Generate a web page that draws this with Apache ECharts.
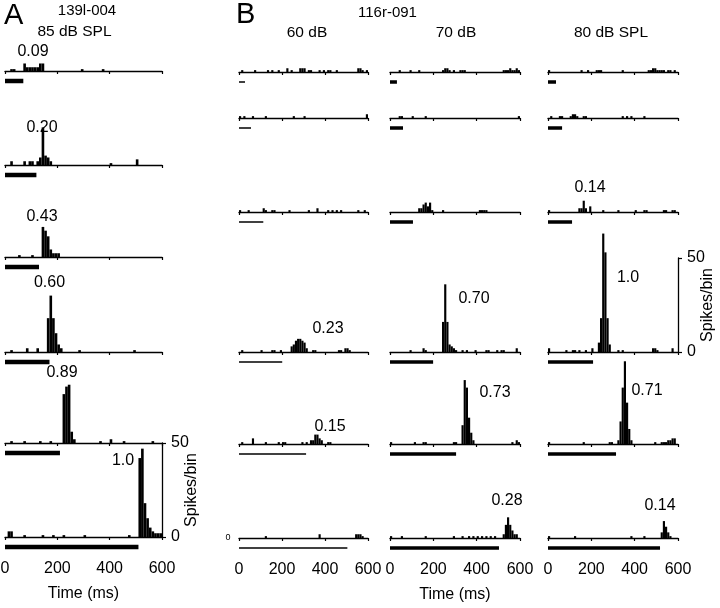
<!DOCTYPE html>
<html><head><meta charset="utf-8">
<script src="https://cdn.jsdelivr.net/npm/echarts@6/dist/echarts.min.js"></script>
<style>html,body{margin:0;padding:0;background:#fff}#c{width:720px;height:608px}</style>
</head><body><div id="c"></div>
<script>
// ---------------- DATA ----------------
const BIN = 10; // ms per histogram bin
const timeTicks = [0, 200, 400, 600];
const spikeTicks = [0, 50];

// Panel A: unit 139l-004, 85 dB SPL. Each histogram: [bin start (ms), spikes/bin]
const stimA = [70, 120, 130, 170, 210, 510];
const ratioA = ['0.09', '0.20', '0.43', '0.60', '0.89', '1.0'];
const histA1 = [[20,1],[30,1],[70,4],[80,2],[90,2],[100,2],[110,2],[120,2],[130,4],[140,4],[290,1],[370,1]];
const histA2 = [[20,2],[70,2],[90,2],[100,2],[120,2],[130,4],[140,20],[150,5],[160,4],[170,2],[400,1],[500,3]];
const histA3 = [[50,1],[100,1],[140,16],[150,14],[160,11],[170,4],[180,2],[190,2],[200,2]];
const histA4 = [[20,1],[80,2],[120,2],[160,18],[170,30],[180,18],[190,10],[200,4],[210,2],[280,1],[490,1]];
const histA5 = [[20,1],[70,1],[130,1],[170,1],[220,26],[230,30],[240,31],[250,6],[260,2],[360,1],[400,2],[450,1],[560,1]];
const histA6 = [[10,3],[20,3],[70,1],[140,1],[180,1],[220,1],[300,1],[470,1],[510,42],[520,47],[530,18],[540,10],[550,5],[560,3],[570,2],[580,2],[590,2]];

// Panel B: unit 116r-091, 60 / 70 / 80 dB SPL
const stim60 = [28, 56, 113, 201, 312, 504];
const ratio60 = ['', '', '', '0.23', '0.15', ''];
const hist60_1 = [[10,1],[70,1],[130,1],[150,1],[180,1],[220,2],[240,1],[280,2],[290,2],[300,2],[320,1],[330,1],[370,1],[390,1],[410,1],[420,1],[450,1],[550,2],[560,2],[570,1],[590,1]];
const hist60_2 = [[0,1],[20,1],[60,1],[120,1],[250,1],[300,1],[590,2]];
const hist60_3 = [[0,1],[40,1],[110,2],[120,1],[150,1],[160,1],[230,1],[320,1],[360,2],[410,1],[430,1],[450,1],[470,1],[550,1],[580,1]];
const hist60_4 = [[10,1],[100,1],[150,1],[160,1],[190,1],[240,3],[250,4],[260,6],[270,7],[280,7],[290,6],[300,5],[310,2],[340,1],[350,1],[460,1],[470,1],[490,2],[500,2],[510,1]];
const hist60_5 = [[10,1],[60,3],[120,1],[180,1],[200,1],[210,1],[290,1],[310,1],[330,2],[340,2],[350,5],[360,5],[370,3],[380,2],[410,1],[420,1]];
const hist60_6 = [[120,1],[370,2],[540,2],[550,2],[560,2],[570,1]];

const stim70 = [32, 60, 106, 199, 305, 503];
const ratio70 = ['', '', '', '0.70', '0.73', '0.28'];
const hist70_1 = [[40,1],[90,1],[130,1],[240,1],[250,2],[260,2],[270,1],[290,1],[320,1],[330,1],[340,1],[520,1],[530,1],[540,1],[550,2],[560,1],[570,1],[580,2],[590,1]];
const hist70_2 = [[40,1],[50,1],[100,1],[160,1],[590,1]];
const hist70_3 = [[130,2],[140,2],[150,4],[160,5],[170,3],[180,5],[190,1],[240,1],[410,1],[420,1],[430,1],[440,1]];
const hist70_4 = [[90,1],[150,2],[160,1],[240,16],[250,36],[260,16],[270,4],[280,3],[290,2],[300,1],[330,1],[350,1],[390,1],[440,1],[450,1],[490,1],[510,1],[520,1],[580,2]];
const hist70_5 = [[0,1],[110,1],[150,1],[160,1],[290,1],[300,1],[330,10],[340,34],[350,30],[360,14],[370,6],[380,2],[560,1],[580,2],[590,1]];
const hist70_6 = [[0,1],[50,1],[160,1],[290,1],[330,1],[360,1],[380,1],[400,1],[420,1],[440,1],[460,1],[480,1],[520,2],[530,7],[540,11],[550,7],[560,4],[570,2],[580,2]];

const stim80 = [37, 65, 111, 208, 314, 517];
const ratio80 = ['', '', '0.14', '1.0', '0.71', '0.14'];
const hist80_1 = [[0,1],[150,1],[180,1],[220,1],[230,1],[240,1],[340,1],[460,1],[470,1],[480,2],[490,2],[500,1],[510,1],[520,1],[530,1],[550,1],[560,1],[580,1]];
const hist80_2 = [[10,1],[50,1],[60,1],[100,1],[110,2],[120,2],[130,1],[160,1],[170,1],[340,1],[360,1],[380,1],[440,1]];
const hist80_3 = [[0,1],[140,2],[150,2],[160,6],[170,2],[190,3],[250,1],[320,1],[400,1],[440,1],[450,1],[530,1],[540,1],[570,1],[580,1]];
const hist80_4 = [[0,2],[80,1],[110,1],[120,1],[140,1],[170,1],[200,2],[230,5],[240,18],[250,63],[260,53],[270,18],[280,4],[320,1],[340,1],[480,2],[490,2],[500,1],[570,2]];
const hist80_5 = [[0,1],[160,1],[280,1],[290,1],[320,2],[330,12],[340,30],[350,44],[360,22],[370,8],[380,2],[490,1],[520,1],[530,1],[540,1],[550,2],[560,2],[570,3],[580,3]];
const hist80_6 = [[0,1],[120,1],[380,1],[440,1],[520,3],[530,9],[540,6],[550,3],[560,1]];

// ---------------- LAYOUT ----------------
const FONT = '"Liberation Sans", Arial, Helvetica, sans-serif';
const PH = 94;          // px for 0..50 spikes/bin
const STIM_GAP = 10;    // stimulus bar offset below axis (px)
const COLS = [
  {left: 5,   width: 157, base: [71,165,257,352,443,537], hist: [histA1,histA2,histA3,histA4,histA5,histA6], stim: stimA, thick: 4.5, ratio: ratioA,
   lab: [[33,52],[42,128],[42,217],[49.5,283],[62,373],[123,461]]},
  {left: 239, width: 129, base: [72,118,212,352,444,538], hist: [hist60_1,hist60_2,hist60_3,hist60_4,hist60_5,hist60_6], stim: stim60, thick: 1.5, ratio: ratio60,
   lab: [null,null,null,[328,329],[330,427],null]},
  {left: 390, width: 130, base: [72,118,212,352,444,538], hist: [hist70_1,hist70_2,hist70_3,hist70_4,hist70_5,hist70_6], stim: stim70, thick: 3.5, ratio: ratio70,
   lab: [null,null,null,[474,299],[495,393],[507,501]]},
  {left: 548, width: 130, base: [72,118,212,352,444,538], hist: [hist80_1,hist80_2,hist80_3,hist80_4,hist80_5,hist80_6], stim: stim80, thick: 3.5, ratio: ratio80,
   lab: [null,null,[590,188],[628,278],[647,391],[660,506]]}
];

function histRender(params, api) {
  const t = api.value(0), v = api.value(1);
  const a = api.coord([t, 0]);
  const b = api.coord([t + BIN, v]);
  return {type: 'rect', shape: {x: a[0], y: b[1], width: b[0] - a[0], height: a[1] - b[1]}, style: {fill: '#000'}};
}
function stimRender(thick) {
  return function (params, api) {
    const a = api.coord([0, 0]);
    const b = api.coord([api.value(0), 0]);
    return {type: 'rect', shape: {x: a[0], y: a[1] + STIM_GAP - thick / 2, width: b[0] - a[0], height: thick}, style: {fill: '#000'}};
  };
}

const grids = [], xAxes = [], yAxes = [], series = [], graphics = [];
const axisStyle = {color: '#000', width: 1.3};
COLS.forEach((c, ci) => {
  c.base.forEach((b, ri) => {
    const i = grids.length;
    const bottom = ri === 5;
    grids.push({left: c.left, width: c.width, top: b - PH, height: PH, containLabel: false, outerBoundsMode: 'none'});
    xAxes.push({
      gridIndex: i, type: 'value', min: 0, max: 600, interval: 200,
      axisLine: {show: true, onZero: true, lineStyle: axisStyle},
      axisTick: {show: true, length: 3, lineStyle: {color: '#000', width: 1.2}},
      axisLabel: {show: bottom, margin: 24, fontSize: 16, color: '#000', fontFamily: FONT, showMinLabel: true, showMaxLabel: true,
        formatter: v => (timeTicks.indexOf(v) >= 0 ? String(v) : '')},
      splitLine: {show: false},
      name: (bottom && (ci === 0 || ci === 2)) ? 'Time (ms)' : '',
      nameLocation: 'middle', nameGap: 49,
      nameTextStyle: {fontSize: 16, color: '#000', fontFamily: FONT}
    });
    const yShow = (ci === 0 && ri === 5) || (ci === 3 && ri === 3);
    yAxes.push({
      gridIndex: i, type: 'value', min: 0, max: 50, interval: 50, position: 'right', show: yShow,
      axisLine: {show: true, onZero: false, lineStyle: axisStyle},
      axisTick: {show: true, length: 4, inside: false, lineStyle: {color: '#000', width: 1.2}},
      axisLabel: {show: true, margin: 9, fontSize: 16, color: '#000', fontFamily: FONT,
        formatter: v => (spikeTicks.indexOf(v) >= 0 ? String(v) : '')},
      splitLine: {show: false},
      name: yShow ? 'Spikes/bin' : '', nameLocation: 'middle', nameRotate: 90, nameGap: 22, nameMoveOverlap: false,
      nameTextStyle: {fontSize: 16, color: '#000', fontFamily: FONT}
    });
    series.push({type: 'custom', xAxisIndex: i, yAxisIndex: i, data: c.hist[ri], renderItem: histRender, clip: false, silent: true});
    series.push({type: 'custom', xAxisIndex: i, yAxisIndex: i, data: [[c.stim[ri], 0]], renderItem: stimRender(c.thick), clip: false, silent: true});
    if (c.ratio[ri] && c.lab[ri]) {
      graphics.push({type: 'text', x: c.lab[ri][0], y: c.lab[ri][1],
        style: {text: c.ratio[ri], fontSize: 16, fontFamily: FONT, fill: '#000', align: 'center', verticalAlign: 'middle'}});
    }
  });
});

function txt(s, x, y, size, align) {
  graphics.push({type: 'text', x: x, y: y, style: {text: s, fontSize: size, fontFamily: FONT, fill: '#000', align: align || 'center', verticalAlign: 'middle'}});
}
txt('A', 4, 16, 29, 'left');
txt('139l-004', 87, 11, 15);
txt('85 dB SPL', 74.5, 32, 15.5);
txt('B', 236, 15, 29, 'left');
txt('116r-091', 387.5, 13, 15);
txt('60 dB', 307, 33, 15.5);
txt('70 dB', 456, 33, 15.5);
txt('80 dB SPL', 611, 33, 15.5);
txt('0', 228, 538, 9);

const chart = echarts.init(document.getElementById('c'), null, {renderer: 'canvas'});
chart.setOption({
  animation: false,
  backgroundColor: '#fff',
  grid: grids, xAxis: xAxes, yAxis: yAxes, series: series,
  graphic: graphics
});
</script>
</body></html>
